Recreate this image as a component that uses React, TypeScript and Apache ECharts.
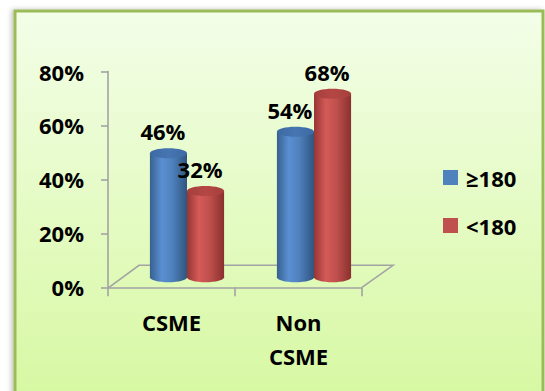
import React, { useEffect, useRef } from "react";
import * as echarts from "echarts";

const categories = ["CSME", "Non\nCSME"];
const seriesNames = ["≥180", "<180"];
const valuesHigh = [46, 54];
const valuesLow = [32, 68];
const yMin = 0;
const yMax = 80;
const yInterval = 20;

const FONT = '"Open Sans", "DejaVu Sans", sans-serif';
const DEPTH_X = 31;
const DEPTH_Y = -22;
const BAR_DX = 15.5;
const BAR_DY = -10;

const palettes = [
  {
    base: "#4f81bd",
    body: ["#37618f", "#5a8fd2", "#4f81bd", "#30557f"],
    top: ["#3c6aa3", "#4675b2"],
  },
  {
    base: "#c0504d",
    body: ["#963634", "#d45a57", "#c0504d", "#8a302e"],
    top: ["#a63f3c", "#b44744"],
  },
];

function bodyGradient(c: string[]) {
  return new echarts.graphic.LinearGradient(0, 0, 1, 0, [
    { offset: 0, color: c[0] },
    { offset: 0.32, color: c[1] },
    { offset: 0.6, color: c[2] },
    { offset: 1, color: c[3] },
  ]);
}

function makeCylinderRender(si: number) {
  return (params: any, api: any) => {
    const idx = api.value(0);
    const v = api.value(1);
    const p0 = api.coord([idx, 0]);
    const p1 = api.coord([idx, v]);
    const bw = api.size([1, 0])[0];
    const w = bw * 0.292;
    const cx = p0[0] + (si === 0 ? -w / 2 : w / 2) + BAR_DX;
    const yb = p0[1] + BAR_DY;
    const yt = p1[1] + BAR_DY;
    const ry = 5;
    const pal = palettes[si];
    return {
      type: "group",
      children: [
        {
          type: "ellipse",
          shape: { cx, cy: yb, rx: w / 2, ry },
          style: { fill: bodyGradient(pal.body) },
        },
        {
          type: "rect",
          shape: { x: cx - w / 2, y: yt, width: w, height: yb - yt },
          style: { fill: bodyGradient(pal.body) },
        },
        {
          type: "ellipse",
          shape: { cx, cy: yt, rx: w / 2, ry },
          style: {
            fill: new echarts.graphic.LinearGradient(0, 0, 1, 0, [
              { offset: 0, color: pal.top[0] },
              { offset: 0.5, color: pal.top[1] },
              { offset: 1, color: pal.top[0] },
            ]),
          },
        },
        {
          type: "text",
          style: {
            text: `${v}%`,
            x: cx - 5.5,
            y: yt - 22,
            align: "center",
            verticalAlign: "middle",
            fontSize: 22,
            fontWeight: "bold",
            fontFamily: FONT,
            fill: "#000",
          },
        },
      ],
    };
  };
}

function floorRender(params: any, api: any) {
  const c0 = api.coord([0, 0]);
  const c1 = api.coord([categories.length - 1, 0]);
  const bw = api.size([1, 0])[0];
  const left = c0[0] - bw / 2;
  const right = c1[0] + bw / 2;
  const y = c0[1];
  return {
    type: "polyline",
    shape: {
      points: [
        [left + 1, y],
        [left + DEPTH_X, y + DEPTH_Y],
        [right + DEPTH_X, y + DEPTH_Y],
        [right, y],
      ],
    },
    style: { stroke: "#a3a3a3", lineWidth: 1.6, fill: "none" },
  };
}

export default function App() {
  const ref = useRef<HTMLDivElement>(null);
  useEffect(() => {
    if (!ref.current) return;
    const chart = echarts.init(ref.current, null, { renderer: "svg" });
    const seriesData = [valuesHigh, valuesLow];
    chart.setOption({
      animation: false,
      backgroundColor: "#ffffff",
      graphic: [
        {
          type: "rect",
          z: -10,
          shape: { x: 15, y: 11, width: 528, height: 400 },
          style: {
            fill: new echarts.graphic.LinearGradient(0, 0, 0, 1, [
              { offset: 0, color: "#f3fee8" },
              { offset: 1, color: "#d6f8a0" },
            ]),
            stroke: "#9bbb59",
            lineWidth: 3,
            shadowBlur: 5,
            shadowOffsetX: -2,
            shadowOffsetY: 0,
            shadowColor: "rgba(0,0,0,0.25)",
          },
        },
      ],
      grid: { left: 108, right: 183, top: 71.5, bottom: 103.7, containLabel: false },
      legend: {
        orient: "vertical",
        left: 438,
        top: 161.5,
        icon: "rect",
        itemWidth: 15,
        itemHeight: 15,
        itemGap: 26,
        data: seriesNames.map((n, i) => ({ name: n, itemStyle: { color: palettes[i].base } })),
        textStyle: {
          fontSize: 22,
          fontWeight: "bold",
          fontFamily: FONT,
          color: "#000",
          lineHeight: 22,
          padding: [0, 0, 0, 3],
        },
      },
      xAxis: {
        type: "category",
        data: categories,
        boundaryGap: true,
        axisLine: { show: true, lineStyle: { color: "#a3a3a3", width: 1.6 } },
        axisTick: { show: true, length: 9, lineStyle: { color: "#a3a3a3", width: 1.6 } },
        axisLabel: {
          margin: 18,
          fontSize: 22,
          fontWeight: "bold",
          fontFamily: FONT,
          color: "#000",
          lineHeight: 34,
        },
      },
      yAxis: {
        type: "value",
        min: yMin,
        max: yMax,
        interval: yInterval,
        splitLine: { show: false },
        axisLine: { show: true, lineStyle: { color: "#a3a3a3", width: 1.6 } },
        axisTick: { show: true, length: 7, lineStyle: { color: "#a3a3a3", width: 1.6 } },
        axisLabel: {
          margin: 24,
          formatter: "{value}%",
          fontSize: 22,
          fontWeight: "bold",
          fontFamily: FONT,
          color: "#000",
        },
      },
      series: [
        {
          type: "custom",
          name: "floor",
          z: 1,
          silent: true,
          renderItem: floorRender,
          data: [[0, 0]],
          encode: { x: 0, y: 1 },
        },
        ...seriesNames.map((name, si) => ({
          type: "custom",
          name,
          z: 2 + si,
          itemStyle: { color: palettes[si].base },
          renderItem: makeCylinderRender(si),
          data: categories.map((_, i) => [i, seriesData[si][i]]),
          encode: { x: 0, y: 1 },
        })),
      ],
    });
    return () => chart.dispose();
  }, []);
  return (
    <div style={{ position: "fixed", left: 0, top: 0, width: 545, height: 391 }}>
      <div ref={ref} style={{ width: 545, height: 391 }} />
    </div>
  );
}
